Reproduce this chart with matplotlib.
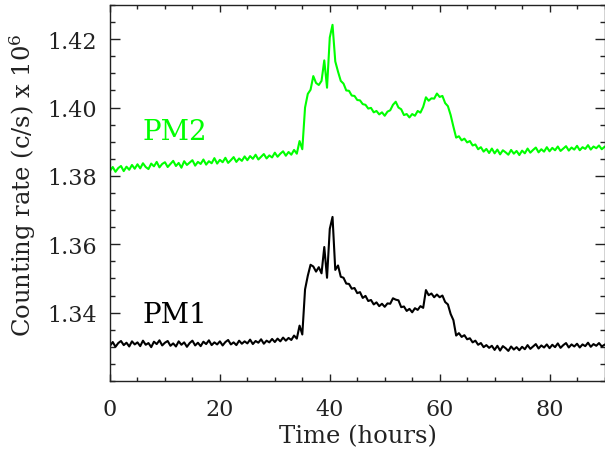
import numpy as np
import matplotlib
matplotlib.use('Agg')
import matplotlib.pyplot as plt
from matplotlib.ticker import MultipleLocator

# time grid (hours), one value every half hour
time_h = np.arange(0, 90.01, 0.5)

# PM2 counting rate (x 1e6 c/s)
pm2 = [
    1.3815, 1.3826, 1.3812, 1.3823, 1.3829, 1.3814, 1.3827, 1.3818, 1.3832, 1.3821,
    1.3834, 1.3822, 1.3837, 1.3826, 1.3820, 1.3836, 1.3828, 1.3841, 1.3825, 1.3835,
    1.3840, 1.3826, 1.3835, 1.3844, 1.3829, 1.3838, 1.3824, 1.3843, 1.3832, 1.3839,
    1.3846, 1.3830, 1.3841, 1.3835, 1.3848, 1.3833, 1.3843, 1.3837, 1.3852, 1.3836,
    1.3847, 1.3840, 1.3853, 1.3838, 1.3846, 1.3855, 1.3841, 1.3851, 1.3844, 1.3857,
    1.3846, 1.3858, 1.3850, 1.3862, 1.3848, 1.3856, 1.3864, 1.3851, 1.3860, 1.3854,
    1.3868, 1.3856, 1.3865, 1.3872, 1.3859, 1.3870, 1.3862, 1.3876, 1.3865, 1.3902,
    1.3878, 1.4000, 1.4040, 1.4052, 1.4092, 1.4072, 1.4066, 1.4078, 1.4138, 1.4058,
    1.4205, 1.4242, 1.4135, 1.4105, 1.4078, 1.4070, 1.4050, 1.4049, 1.4035, 1.4034,
    1.4022, 1.4021, 1.4010, 1.4008, 1.3997, 1.3999, 1.3986, 1.3990, 1.3980, 1.3986,
    1.3976, 1.3988, 1.3992, 1.4008, 1.4017, 1.4000, 1.3995, 1.3978, 1.3981, 1.3971,
    1.3981, 1.3976, 1.3990, 1.3985, 1.4002, 1.4030, 1.4020, 1.4027, 1.4026, 1.4041,
    1.4031, 1.4034, 1.4013, 1.4004, 1.3978, 1.3944, 1.3912, 1.3916, 1.3904, 1.3909,
    1.3898, 1.3902, 1.3889, 1.3892, 1.3878, 1.3884, 1.3871, 1.3879, 1.3867, 1.3880,
    1.3866, 1.3877, 1.3863, 1.3875, 1.3869, 1.3862, 1.3876, 1.3865, 1.3873, 1.3861,
    1.3874, 1.3866, 1.3880, 1.3868, 1.3876, 1.3883, 1.3869, 1.3878, 1.3871, 1.3884,
    1.3872, 1.3882, 1.3875, 1.3886, 1.3873, 1.3880, 1.3887, 1.3874, 1.3883, 1.3877,
    1.3888, 1.3875, 1.3884, 1.3879, 1.3890, 1.3877, 1.3886, 1.3881, 1.3889, 1.3878,
    1.3885,
]

# PM1 counting rate (x 1e6 c/s)
pm1 = [
    1.3303, 1.3314, 1.3300, 1.3311, 1.3317, 1.3305, 1.3312, 1.3301, 1.3316, 1.3307,
    1.3313, 1.3302, 1.3318, 1.3306, 1.3311, 1.3299, 1.3315, 1.3308, 1.3319, 1.3304,
    1.3312, 1.3317, 1.3303, 1.3310, 1.3301, 1.3316, 1.3306, 1.3313, 1.3300, 1.3311,
    1.3318, 1.3304, 1.3312, 1.3302, 1.3315, 1.3308, 1.3319, 1.3305, 1.3313, 1.3307,
    1.3316, 1.3304, 1.3314, 1.3320, 1.3307, 1.3313, 1.3305, 1.3318, 1.3309, 1.3316,
    1.3310, 1.3321, 1.3308, 1.3317, 1.3312, 1.3322, 1.3309, 1.3318, 1.3313, 1.3323,
    1.3314, 1.3324, 1.3316, 1.3327, 1.3318, 1.3326, 1.3320, 1.3333, 1.3324, 1.3362,
    1.3336, 1.3468, 1.3508, 1.3540, 1.3535, 1.3520, 1.3533, 1.3515, 1.3592, 1.3502,
    1.3645, 1.3680, 1.3525, 1.3538, 1.3505, 1.3502, 1.3485, 1.3484, 1.3470, 1.3472,
    1.3457, 1.3460, 1.3443, 1.3449, 1.3434, 1.3437, 1.3424, 1.3430, 1.3419, 1.3426,
    1.3417, 1.3427, 1.3426, 1.3442, 1.3438, 1.3436, 1.3416, 1.3418, 1.3405, 1.3411,
    1.3401, 1.3413, 1.3408, 1.3419, 1.3414, 1.3466, 1.3451, 1.3456, 1.3445, 1.3453,
    1.3445, 1.3450, 1.3431, 1.3424, 1.3396, 1.3378, 1.3333, 1.3340, 1.3329, 1.3334,
    1.3322, 1.3325, 1.3313, 1.3318, 1.3306, 1.3311, 1.3299, 1.3305, 1.3297, 1.3303,
    1.3291, 1.3303, 1.3289, 1.3302, 1.3296, 1.3288, 1.3301, 1.3292, 1.3299, 1.3290,
    1.3300, 1.3293, 1.3305, 1.3294, 1.3301, 1.3308, 1.3295, 1.3304, 1.3298, 1.3307,
    1.3296, 1.3306, 1.3299, 1.3310, 1.3297, 1.3305, 1.3311, 1.3298, 1.3307, 1.3301,
    1.3309, 1.3298, 1.3307, 1.3302, 1.3312, 1.3300, 1.3308, 1.3303, 1.3311, 1.3301,
    1.3306,
]

yticks = [1.34, 1.36, 1.38, 1.40, 1.42]

plt.rcParams['font.family'] = 'DejaVu Serif'
plt.rcParams['mathtext.fontset'] = 'dejavuserif'

fig = plt.figure(figsize=(6.05, 4.56), dpi=100)
ax = fig.add_axes([110 / 605, 1 - 382 / 456, 494.5 / 605, 376 / 456])

ax.plot(time_h, pm2, color='#00ff00', lw=1.5)
ax.plot(time_h, pm1, color='black', lw=1.5)

ax.set_xlim(0, 90)
ax.set_ylim(1.32, 1.43)
ax.xaxis.set_major_locator(MultipleLocator(20))
ax.xaxis.set_minor_locator(MultipleLocator(5))
ax.set_yticks(yticks)
ax.yaxis.set_minor_locator(MultipleLocator(0.005))
ax.yaxis.set_major_formatter(plt.FormatStrFormatter('%.2f'))

ax.tick_params(which='both', direction='in', top=True, right=True,
               labelsize=16, colors='#222222')
ax.tick_params(axis='x', which='major', length=5, width=1, pad=12)
ax.tick_params(axis='x', which='minor', length=2.6, width=1)
ax.tick_params(axis='y', which='major', length=7, width=1, pad=9.5)
ax.tick_params(axis='y', which='minor', length=3.6, width=1)
for s in ax.spines.values():
    s.set_linewidth(1)
    s.set_color('#222222')

ax.text(6, 1.3907, 'PM2', color='#00ff00', fontsize=20, va='baseline')
ax.text(6, 1.3372, 'PM1', color='black', fontsize=20, va='baseline')

fig.text(23 / 605, 1 - 185 / 456, r'Counting rate (c/s) x 10$^6$',
         rotation=90, ha='center', va='center', fontsize=17.5, color='#222222')
fig.text(357.5 / 605, 1 - 437 / 456, 'Time (hours)',
         ha='center', va='center', fontsize=17.5, color='#222222')

fig.savefig('out.png', dpi=100)
